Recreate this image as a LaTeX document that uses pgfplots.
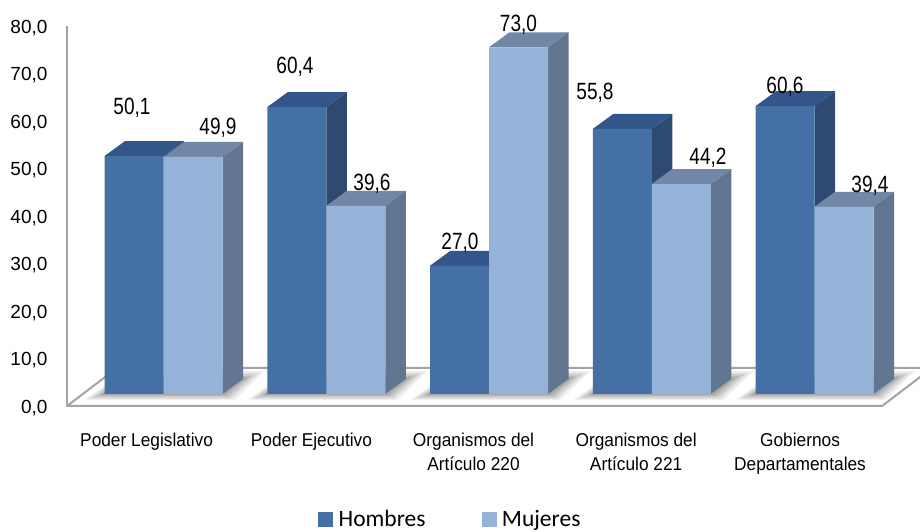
\documentclass[border=0pt]{standalone}
\usepackage{pgfplots}
\pgfplotsset{compat=1.18}
\usepackage{fontspec}
\setmainfont{Liberation Sans}
\newfontfamily\legfont{Carlito}
\definecolor{hfront}{HTML}{4570A6}
\definecolor{htop}{HTML}{32568A}
\definecolor{hside}{HTML}{2E4A72}
\definecolor{mfront}{HTML}{95B3D8}
\definecolor{mtop}{HTML}{7287A5}
\definecolor{mside}{HTML}{627691}
\definecolor{axisgrey}{HTML}{A3A3A3}
% one bar's top and right faces: left edge of the front, value, colours
\newcommand\faces[4]{%
  \pgfmathsetmacro\xl{#1}%
  \pgfmathsetmacro\xr{#1+0.36252}%
  \pgfmathsetmacro\xlb{#1+0.126}%
  \pgfmathsetmacro\xrb{#1+0.36252+0.126}%
  \pgfmathsetmacro\yo{2.526}%
  \pgfmathsetmacro\yob{2.526+3.158}%
  \pgfmathsetmacro\yt{#2+2.526}%
  \pgfmathsetmacro\ytb{#2+2.526+3.158}%
  \addplot[fill=#3,draw=none,forget plot] coordinates {(\xl,\yt)(\xr,\yt)(\xrb,\ytb)(\xlb,\ytb)};
  \addplot[fill=#4,draw=none,forget plot] coordinates {(\xr,\yo)(\xrb,\yob)(\xrb,\ytb)(\xr,\yt)};
}
% soft shadow round one group's base (pixels, y down)
\newcommand\shadow[2]{%
  \foreach \r/\o in {20/.06,16/.07,12/.08,8/.09,4/.10}{%
    \fill[black,opacity=\o]
      ({#1-\r*1.0 pt},{532pt-394pt-\r*0.3 pt})
      -- ({#2+\r*0.6 pt},{532pt-394pt-\r*0.3 pt})
      -- ({#2+20pt+\r*1.1 pt},{532pt-379pt+\r*0.4 pt})
      -- ({#1+20pt},{532pt-379pt+\r*0.4 pt}) -- cycle;
  }%
}
\begin{document}
\begin{tikzpicture}
\useasboundingbox (0,0) rectangle (920pt,532pt);
% floor
\begin{scope}
\clip (0,0) rectangle (920pt,532pt);
\shadow{104.5pt}{222.5pt}
\shadow{267.5pt}{385.5pt}
\shadow{430.5pt}{548.5pt}
\shadow{593.5pt}{711.5pt}
\shadow{755.5pt}{873.5pt}
\draw[axisgrey,line width=2pt,line join=round]
  (67pt,126pt) -- (117pt,164pt) -- (932pt,164pt) -- (882pt,126pt) -- cycle;
\end{scope}
\begin{axis}[
  at={(67pt,126pt)}, anchor=south west,
  scale only axis, width=815pt, height=380pt,
  xmin=-0.59293, xmax=4.41475, ymin=0, ymax=80,
  clip=false,
  axis y line=left, axis x line=bottom,
  y axis line style={-,draw=axisgrey,line width=2pt},
  x axis line style={-,draw=none},
  tick style={draw=none},
  major tick length=0pt,
  ytick={0,10,...,80},
  scaled y ticks=false,
  yticklabel style={font=\fontsize{19}{21}\selectfont,
    /pgf/number format/fixed,/pgf/number format/fixed zerofill,
    /pgf/number format/precision=1,/pgf/number format/use comma,
    /pgf/number format/assume math mode=true,xshift=-16pt,yshift=-2pt},
  xtick={-0.104,0.909,1.905,2.904,3.911},
  xticklabels={Poder Legislativo,Poder Ejecutivo,{Organismos del\\Artículo 220},{Organismos del\\Artículo 221},{Gobiernos\\Departamentales}},
  xticklabel style={font=\fontsize{18.6}{24.5}\selectfont,xscale=0.93,transform shape,align=center,anchor=north,yshift=-23pt},
  legend style={at={(0.308,-0.2975)},anchor=west,draw=none,fill=none,inner sep=0pt,
    legend columns=2,font=\legfont\fontsize{23.5}{25}\selectfont,
    nodes={inner ysep=0pt},
    /tikz/column 1/.style={column sep=4pt},
    /tikz/column 2/.style={column sep=54pt},
    /tikz/column 3/.style={column sep=4pt}},
]
% Hombres
\faces{-0.36252}{50.1}{htop}{hside}
\faces{0.63748}{60.4}{htop}{hside}
\faces{1.63748}{27.0}{htop}{hside}
\faces{2.63748}{55.8}{htop}{hside}
\faces{3.63748}{60.6}{htop}{hside}
\addplot[ybar,bar width=59pt,bar shift=-29.5pt,yshift=12pt,fill=hfront,draw=none,forget plot]
  coordinates {(0,50.1)(1,60.4)(2,27.0)(3,55.8)(4,60.6)};
% Mujeres
\faces{0}{49.9}{mtop}{mside}
\faces{1}{39.6}{mtop}{mside}
\faces{2}{73.0}{mtop}{mside}
\faces{3}{44.2}{mtop}{mside}
\faces{4}{39.4}{mtop}{mside}
\addplot[ybar,bar width=59pt,bar shift=29.5pt,yshift=12pt,fill=mfront,draw=none,forget plot]
  coordinates {(0,49.9)(1,39.6)(2,73.0)(3,44.2)(4,39.4)};
\addlegendimage{legend image code/.code={\fill[hfront] (0pt,-7pt) rectangle (14pt,7pt);}}
\addlegendentry{Hombres}
\addlegendimage{legend image code/.code={\fill[mfront] (0pt,-7pt) rectangle (14pt,7pt);}}
\addlegendentry{Mujeres}
\end{axis}
\foreach \x/\y/\t in {132/114.5/{50,1},218/135/{49,9},295/74/{60,4},372/190.5/{39,6},460/249.5/{27,0},518.5/32/{73,0},595/99.5/{55,8},708/164.5/{44,2},785/93.5/{60,6},870/192.5/{39,4}}{%
  \node[font=\fontsize{23.5}{25}\selectfont,xscale=0.81,transform shape,inner sep=0pt,anchor=base] at (\x pt,{532pt-\y pt}) {\t};
}
\end{tikzpicture}
\end{document}
